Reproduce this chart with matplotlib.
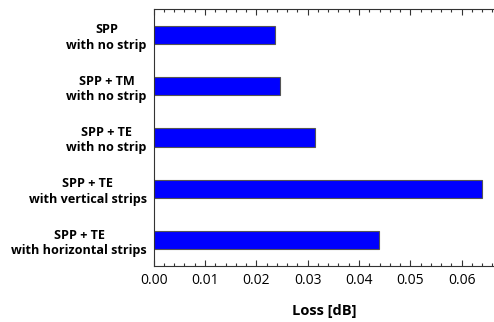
import matplotlib.pyplot as plt
from matplotlib.ticker import MultipleLocator

# bar labels (top to bottom) and loss values in dB
labels = [
    "SPP\nwith no strip",
    "SPP + TM\nwith no strip",
    "SPP + TE\nwith no strip",
    "SPP + TE\nwith vertical strips",
    "SPP + TE\nwith horizontal strips",
]
loss = [0.0236, 0.0246, 0.0314, 0.0640, 0.0438]

plt.rcParams['font.family'] = ['Open Sans', 'DejaVu Sans']

W, H = 494, 322
fig = plt.figure(figsize=(W / 100, H / 100), dpi=100)
left, right, top, bottom = 153.7, 494, 9.3, 265.7
ax = fig.add_axes([left / W, 1 - bottom / H, (right - left) / W, (bottom - top) / H])

pos = list(range(len(labels)))
ax.barh(pos, loss, height=0.36, color='#0000FF', edgecolor='#555555', linewidth=0.8)

ax.set_ylim(len(labels) - 0.5, -0.5)
ax.set_xlim(0, 0.0663)
ax.set_yticks(pos)
ax.set_yticklabels(labels, fontsize=9.1, fontweight='bold', ma='center', linespacing=1.25)
ax.tick_params(axis='y', length=0, pad=5)

ax.xaxis.set_major_locator(MultipleLocator(0.01))
ax.xaxis.set_minor_locator(MultipleLocator(0.002))
ax.xaxis.set_major_formatter(lambda v, p: f"{v:.2f}")
ax.tick_params(axis='x', which='both', direction='in', top=True, bottom=True,
               labelsize=10, color='#333333', width=0.8)
ax.tick_params(axis='x', which='major', length=4, pad=5)
ax.tick_params(axis='x', which='minor', length=2)

ax.spines['right'].set_visible(False)
for s in ['left', 'top', 'bottom']:
    ax.spines[s].set_color('#333333')
    ax.spines[s].set_linewidth(0.8)

ax.set_xlabel("Loss [dB]", fontsize=10.5, fontweight='bold', labelpad=12)

fig.savefig("out.png", dpi=100)
